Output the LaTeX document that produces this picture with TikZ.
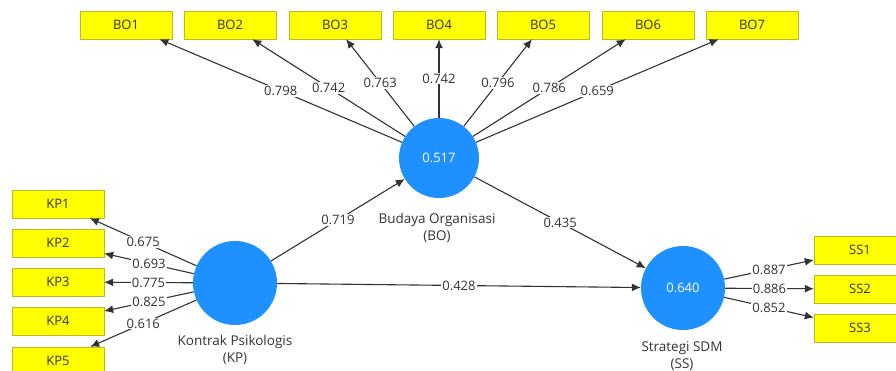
\documentclass[tikz,border=0pt]{standalone}
\usepackage{fontspec}
\setmainfont{Open Sans}
\usetikzlibrary{arrows.meta,positioning}
\definecolor{BoxYellow}{RGB}{255,255,0}
\definecolor{BoxEdge}{RGB}{185,185,40}
\definecolor{LatentBlue}{RGB}{30,144,255}
\definecolor{EdgeGray}{RGB}{50,50,50}
\definecolor{TextGray}{RGB}{50,50,55}

\begin{document}
\begin{tikzpicture}[x=1pt,y=-1pt,
    indicator/.style={draw=BoxEdge,fill=BoxYellow,minimum width=92pt,minimum height=28pt,
      inner sep=0pt,text=TextGray,font=\fontsize{13}{15}\selectfont},
    latent/.style={circle,fill=LatentBlue,minimum size=84pt,inner sep=0pt,
      text=white,font=\fontsize{13}{15}\selectfont},
    caption/.style={align=center,text=TextGray,font=\fontsize{13.5}{16.5}\selectfont},
    link/.style={draw=EdgeGray,line width=1.1pt,-{Latex[length=9pt,width=8pt]}},
    weight/.style={fill=white,inner sep=1pt,text=TextGray,font=\fontsize{13}{15}\selectfont}]
  \useasboundingbox (0,0) rectangle (896,371);
  % latent variables
  \node[latent,minimum size=80pt] (BO) at (439,158) {0.517};
  \node[latent] (KP) at (235,283) {};
  \node[latent] (SS) at (683,288) {0.640};
  \node[caption] (BOtxt) at (437,228) {Budaya Organisasi\\(BO)};
  \node[caption] (KPtxt) at (235,350) {Kontrak Psikologis\\(KP)};
  \node[caption] (SStxt) at (682,356) {Strategi SDM\\(SS)};
  % BO indicators
  \node[indicator] (BO1) at (126,25) {BO1};
  \node[indicator] (BO2) at (230,25) {BO2};
  \node[indicator] (BO3) at (335,25) {BO3};
  \node[indicator] (BO4) at (439,25) {BO4};
  \node[indicator] (BO5) at (543,25) {BO5};
  \node[indicator] (BO6) at (648,25) {BO6};
  \node[indicator] (BO7) at (752,25) {BO7};
  % KP indicators
  \node[indicator] (KP1) at (58,204) {KP1};
  \node[indicator] (KP2) at (58,243) {KP2};
  \node[indicator] (KP3) at (58,282) {KP3};
  \node[indicator] (KP4) at (58,321) {KP4};
  \node[indicator] (KP5) at (58,361) {KP5};
  % SS indicators
  \node[indicator] (SS1) at (860,250) {SS1};
  \node[indicator] (SS2) at (860,289) {SS2};
  \node[indicator] (SS3) at (860,328) {SS3};
  % outer loadings
  \draw[link] (BO) -- node[weight] {0.798} (BO1);
  \draw[link] (BO) -- node[weight] {0.742} (BO2);
  \draw[link] (BO) -- node[weight] {0.763} (BO3);
  \draw[link] (BO) -- node[weight] {0.742} (BO4);
  \draw[link] (BO) -- node[weight] {0.796} (BO5);
  \draw[link] (BO) -- node[weight] {0.786} (BO6);
  \draw[link] (BO) -- node[weight] {0.659} (BO7);
  \draw[link] (KP) -- node[weight] {0.675} (KP1);
  \draw[link] (KP) -- node[weight] {0.693} (KP2);
  \draw[link] (KP) -- node[weight] {0.775} (KP3);
  \draw[link] (KP) -- node[weight] {0.825} (KP4);
  \draw[link] (KP) -- node[weight] {0.616} (KP5);
  \draw[link] (SS) -- node[weight] {0.887} (SS1);
  \draw[link] (SS) -- node[weight] {0.886} (SS2);
  \draw[link] (SS) -- node[weight] {0.852} (SS3);
  % path coefficients
  \draw[link] (KP) -- node[weight] {0.719} (BO);
  \draw[link] (BO) -- node[weight] {0.435} (SS);
  \draw[link] (KP) -- node[weight] {0.428} (SS);
\end{tikzpicture}
\end{document}
